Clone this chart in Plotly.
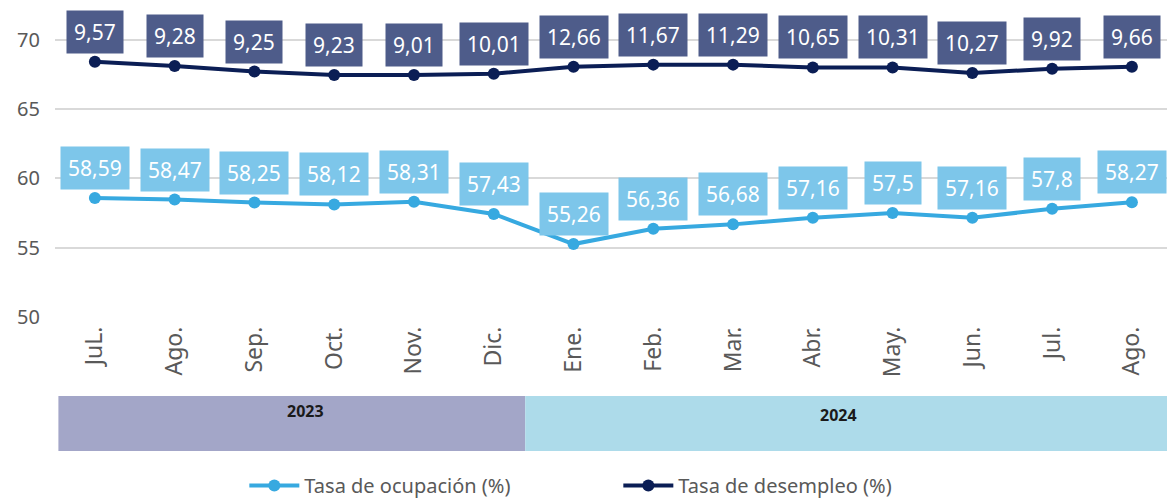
import plotly.graph_objects as go

meses = ["JuL.", "Ago.", "Sep.", "Oct.", "Nov.", "Dic.", "Ene.", "Feb.", "Mar.",
         "Abr.", "May.", "Jun.", "Jul.", "Ago."]
ocupacion = [58.59, 58.47, 58.25, 58.12, 58.31, 57.43, 55.26, 56.36, 56.68,
             57.16, 57.5, 57.16, 57.8, 58.27]
# plotted positions of the unemployment line (as drawn in the reference)
desempleo_pos = [68.4, 68.1, 67.7, 67.45, 67.45, 67.55, 68.05, 68.2, 68.2,
                 68.0, 68.0, 67.6, 67.9, 68.05]
desempleo = [9.57, 9.28, 9.25, 9.23, 9.01, 10.01, 12.66, 11.67, 11.29,
             10.65, 10.31, 10.27, 9.92, 9.66]
anios = ["2023", "2024"]

FONT = "Noto Sans, Open Sans, sans-serif"
GREY = "#595959"
C_OCU = "#37A9E0"
C_OCU_LBL = "#7DC6EA"
C_DES = "#0B1E55"
C_DES_LBL = "#4E5C8A"

def fmt(v):
    s = f"{v:.2f}".rstrip("0").rstrip(".")
    return s.replace(".", ",")

xs = list(range(len(meses)))

fig = go.Figure()
fig.add_trace(go.Scatter(
    x=xs, y=ocupacion, mode="lines+markers", name="Tasa de ocupación (%)",
    line=dict(color=C_OCU, width=4), marker=dict(size=12, color=C_OCU)))
fig.add_trace(go.Scatter(
    x=xs, y=desempleo_pos, mode="lines+markers", name="Tasa de desempleo (%)",
    line=dict(color=C_DES, width=4), marker=dict(size=12, color=C_DES)))

annots = []
for x, y, v in zip(xs, ocupacion, ocupacion):
    annots.append(dict(x=x, y=y, xref="x", yref="y", text=fmt(v), showarrow=False,
                       yshift=30, bgcolor=C_OCU_LBL, borderpad=7,
                       font=dict(family=FONT, size=21, color="white")))
for x, y, v in zip(xs, desempleo_pos, desempleo):
    annots.append(dict(x=x, y=y, xref="x", yref="y", text=fmt(v), showarrow=False,
                       yshift=30, bgcolor=C_DES_LBL, borderpad=7,
                       font=dict(family=FONT, size=21, color="white")))

# year band
L = 54.6
W = 1167 - L
H = 312.0
B = 317.0
def px(p):
    return (p - L) / W
def py(p):
    return (B - p) / H
shapes = [
    dict(type="rect", xref="paper", yref="paper", x0=px(58), x1=px(525),
         y0=py(451), y1=py(396), fillcolor="#A3A6C8", line=dict(width=0), layer="below"),
    dict(type="rect", xref="paper", yref="paper", x0=px(525), x1=1.0,
         y0=py(451), y1=py(396), fillcolor="#ADDBEA", line=dict(width=0), layer="below"),
]
annots.append(dict(x=px(285), y=py(424), xref="paper", yref="paper",
                   text="<b>" + anios[0] + "</b>", showarrow=False,
                   font=dict(family=FONT, size=16, color="#1a1a1a")))
annots.append(dict(x=px(859), y=py(428), xref="paper", yref="paper",
                   text="<b>" + anios[1] + "</b>", showarrow=False,
                   font=dict(family=FONT, size=16, color="#1a1a1a")))

fig.update_layout(
    width=1167, height=499,
    margin=dict(l=55, r=0, t=5, b=182, autoexpand=False),
    paper_bgcolor="white", plot_bgcolor="white",
    font=dict(family=FONT, color=GREY),
    showlegend=True,
    legend=dict(orientation="h", x=px(244), xanchor="left", y=py(505), yanchor="bottom",
                font=dict(family=FONT, size=20, color=GREY), itemwidth=50,
                entrywidth=309, entrywidthmode="pixels",
                traceorder="normal"),
    shapes=shapes,
    annotations=annots,
)
fig.update_xaxes(
    range=[-0.5, 13.44], tickmode="array", tickvals=xs, ticktext=meses,
    tickangle=-90, tickfont=dict(family=FONT, size=23, color=GREY),
    ticklabelstandoff=4, automargin=False,
    showgrid=False, zeroline=False, showline=False, ticks="", fixedrange=True,
)
fig.update_yaxes(
    range=[50, 72.5], tickvals=[50, 55, 60, 65, 70], ticks="", automargin=False,
    tickfont=dict(family=FONT, size=20, color=GREY), ticklabelstandoff=14,
    showgrid=True, gridcolor="#D9D9D9", gridwidth=1.5, zeroline=False, showline=False,
)

fig.write_html("out.html")
